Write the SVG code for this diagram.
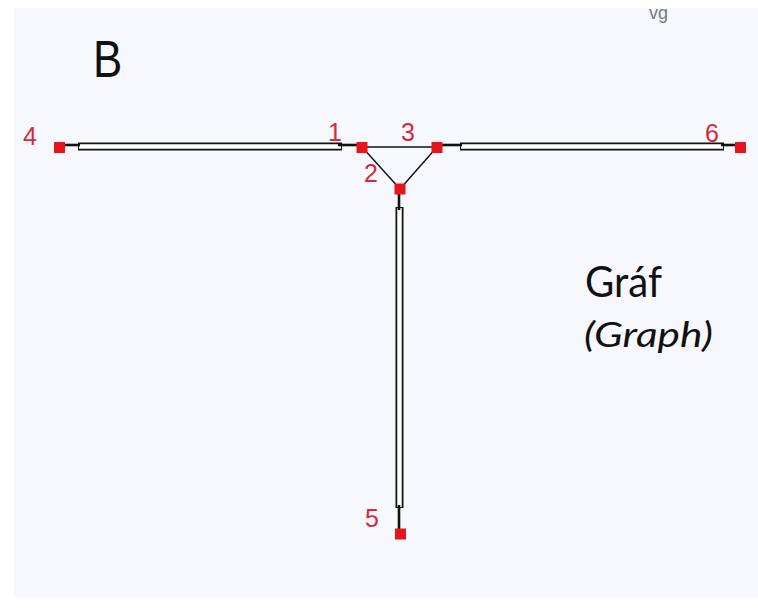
<svg xmlns="http://www.w3.org/2000/svg" width="758" height="609" viewBox="0 0 758 609">
<style>
.lbl{font-family:"Liberation Sans",Arial,sans-serif;font-size:25px;fill:#d42a3a}
.node{fill:#e8141c}
.dblo{stroke:#111;stroke-width:8;fill:none}
.dbli{stroke:#fff;stroke-width:4.5;fill:none}
.thk{stroke:#111;stroke-width:2.6;fill:none}
.thin{stroke:#111;stroke-width:1.5;fill:none}
</style>
<rect x="0" y="0" width="758" height="609" fill="#ffffff"/>
<rect x="14" y="8" width="744" height="590" fill="#f7f8fd"/>
<text x="649" y="19" font-family="Liberation Sans,Arial,sans-serif" font-size="18" fill="#777">vg</text>
<text transform="translate(93,77) scale(0.86,1)" x="0" y="0" font-family="Liberation Sans,Arial,sans-serif" font-size="51" fill="#111">B</text>
<g id="connectors">
  <g id="e4-1">
    <line class="dblo" x1="78" y1="146.5" x2="342" y2="146.5"/>
    <line class="dbli" x1="79" y1="146.5" x2="341" y2="146.5"/>
    <line class="thk" x1="64" y1="145" x2="80" y2="145"/>
    <line class="thk" x1="338" y1="145" x2="357" y2="145"/>
  </g>
  <g id="e3-6">
    <line class="dblo" x1="460" y1="146.5" x2="724" y2="146.5"/>
    <line class="dbli" x1="461" y1="146.5" x2="723" y2="146.5"/>
    <line class="thk" x1="442" y1="145" x2="462" y2="145"/>
    <line class="thk" x1="721" y1="145" x2="736" y2="145"/>
  </g>
  <g id="e2-5">
    <line class="dblo" x1="399.5" y1="207" x2="399.5" y2="508"/>
    <line class="dbli" x1="399.5" y1="208" x2="399.5" y2="507"/>
    <line class="thk" x1="399" y1="194" x2="399" y2="210"/>
    <line class="thk" x1="399" y1="505" x2="399" y2="529"/>
  </g>
  <line id="e1-3" class="thin" x1="362" y1="147" x2="437" y2="147"/>
  <line id="e1-2" class="thin" x1="362" y1="147" x2="400" y2="189"/>
  <line id="e3-2" class="thin" x1="437" y1="147" x2="400" y2="189"/>
</g>
<g id="n4"><rect class="node" x="54" y="142" width="11" height="11"/><text class="lbl" x="23" y="145">4</text></g>
<g id="n1"><rect class="node" x="356.5" y="142" width="11" height="11"/><text class="lbl" x="328" y="141">1</text></g>
<g id="n3"><rect class="node" x="431.5" y="142" width="11" height="11"/><text class="lbl" x="401" y="141">3</text></g>
<g id="n6"><rect class="node" x="735" y="142" width="11" height="11"/><text class="lbl" x="705" y="142">6</text></g>
<g id="n2"><rect class="node" x="394.5" y="183.5" width="11" height="11"/><text class="lbl" x="364" y="182">2</text></g>
<g id="n5"><rect class="node" x="395" y="528.5" width="11" height="11"/><text class="lbl" x="365" y="527">5</text></g>
<g id="caption">
  <text x="585" y="297" font-family="Lato,'Open Sans',sans-serif" font-size="43" fill="#111" textLength="77" lengthAdjust="spacingAndGlyphs">Gráf</text>
  <text x="584" y="347" font-family="Lato,'Open Sans',sans-serif" font-size="34" font-style="italic" fill="#111" textLength="129" lengthAdjust="spacingAndGlyphs">(Graph)</text>
</g>
</svg>
